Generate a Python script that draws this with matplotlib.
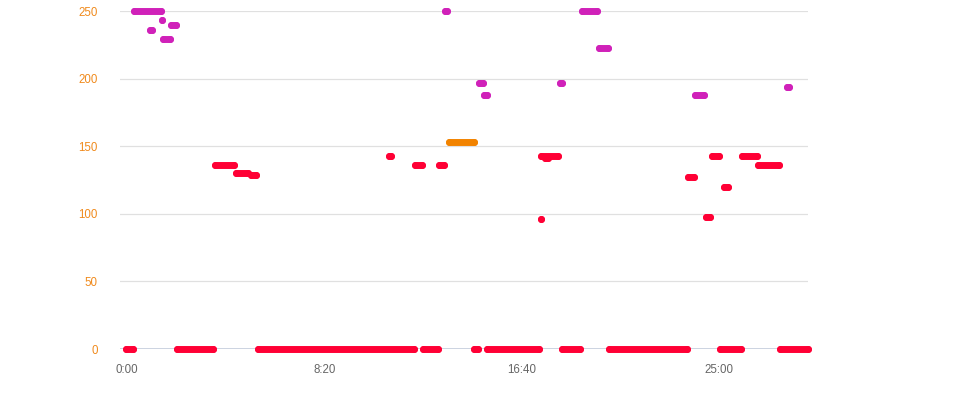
import matplotlib
matplotlib.use("Agg")
import matplotlib.pyplot as plt
from matplotlib.ticker import FixedLocator, FuncFormatter

# runs of consecutive readings: start minute, end minute, value
red_start = [-2, 126, 333, 751, 880, 913, 1103, 1222, 1503, 1655,
             224, 277, 314, 664, 730, 791, 1050, 1059, 1048,
             1422, 1466, 1483, 1513, 1559, 1600]
red_end = [16, 219, 728, 787, 890, 1045, 1149, 1418, 1555, 1726,
           271, 307, 328, 670, 748, 804, 1093, 1067, 1048,
           1436, 1476, 1499, 1522, 1596, 1651]
red_val = [0, 0, 0, 0, 0, 0, 0, 0, 0, 0,
           136, 130, 129, 143, 136, 136, 143, 141, 96,
           127, 98, 143, 120, 143, 136]

mag_start = [18, 59, 89, 92, 112, 806, 893, 904, 1098, 1152, 1197, 1440, 1673]
mag_end = [85, 63, 89, 110, 123, 812, 901, 912, 1102, 1192, 1220, 1461, 1677]
mag_val = [250, 236, 243, 229, 240, 250, 197, 188, 197, 250, 223, 188, 194]

org_start = [817]
org_end = [878]
org_val = [153]

x_ticks = [0, 500, 1000, 1500]
y_ticks = [0, 50, 100, 150, 200, 250]

RED = "#ff0035"
MAG = "#d021b9"
ORG = "#f28300"

plt.rcParams['font.family'] = ['Liberation Sans', 'DejaVu Sans']

fig = plt.figure(figsize=(9.64, 4.0), dpi=100)
ax = fig.add_axes([120 / 964, 51 / 400, 688 / 964, 338 / 400])


def draw_runs(starts, ends, vals, color, z):
    for s, e, v in zip(starts, ends, vals):
        ax.plot([s, e], [v, v], color=color, lw=5, marker='o', ms=5,
                mew=0, solid_capstyle='round', clip_on=False, zorder=z)


draw_runs(mag_start, mag_end, mag_val, MAG, 3)
draw_runs(org_start, org_end, org_val, ORG, 3)
draw_runs(red_start, red_end, red_val, RED, 4)

ax.set_xlim(-17.7, 1725.5)
ax.set_ylim(0, 250)

for s in ax.spines.values():
    s.set_visible(False)
ax.axhline(0, color="#c8d0de", lw=1.3, zorder=1)
for yv in y_ticks[1:]:
    ax.axhline(yv, color="#e0e0e0", lw=0.9, zorder=0)

ax.xaxis.set_major_locator(FixedLocator(x_ticks))
ax.xaxis.set_major_formatter(FuncFormatter(lambda m, p: "%d:%02d" % (int(m) // 60, int(m) % 60)))
ax.yaxis.set_major_locator(FixedLocator(y_ticks))
ax.tick_params(axis='x', length=0, pad=11, labelsize=8.3, labelcolor="#666666")
ax.tick_params(axis='y', length=0, pad=16, labelsize=8.3, labelcolor="#f08a1c")

fig.savefig("out.png", dpi=100)
